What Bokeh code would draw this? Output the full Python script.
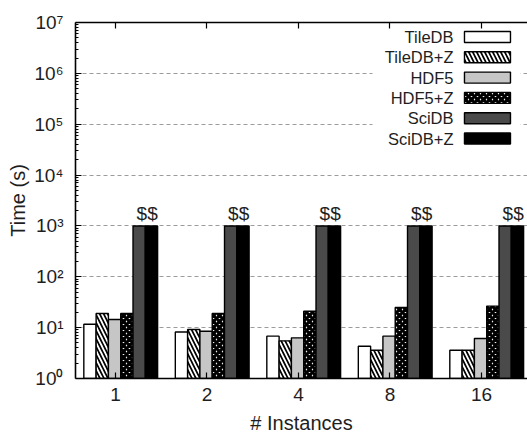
from bokeh.plotting import figure
from bokeh.models import (ColumnDataSource, FixedTicker, CustomJSTickFormatter,
                          LinearAxis, Range1d)
from bokeh.core.properties import value
from bokeh.embed import file_html
from bokeh.resources import INLINE

# ---------------- data ----------------
instances = ["1", "2", "4", "8", "16"]
series = ["TileDB", "TileDB+Z", "HDF5", "HDF5+Z", "SciDB", "SciDB+Z"]
tiledb = [11.7, 8.2, 6.8, 4.3, 3.6]
tiledb_z = [19.0, 9.2, 5.5, 3.6, 3.6]
hdf5 = [14.5, 8.5, 6.3, 6.8, 6.1]
hdf5_z = [19.0, 19.0, 21.0, 25.0, 26.5]
scidb = [1000, 1000, 1000, 1000, 1000]
scidb_z = [1000, 1000, 1000, 1000, 1000]
timeout_label = "$$"
y_exponents = [0, 1, 2, 3, 4, 5, 6, 7]

values = [tiledb, tiledb_z, hdf5, hdf5_z, scidb, scidb_z]

# ---------------- styles ----------------
FONT = "Liberation Sans"
TXT = "#1e1e1e"
styles = [
    dict(fill_color="white", hatch_pattern=" "),
    dict(fill_color="white", hatch_pattern="\\", hatch_color="black", hatch_scale=8, hatch_weight=1.7),
    dict(fill_color="#c6c6c6", hatch_pattern=" "),
    dict(fill_color="white", hatch_pattern="x", hatch_color="black", hatch_scale=6, hatch_weight=3.2),
    dict(fill_color="#4a4a4a", hatch_pattern=" "),
    dict(fill_color="black", hatch_pattern=" "),
]

# layout in category units (one unit between instance ticks)
X_START, X_END = -0.437, 4.503
BAR_W = 0.1344
GROUP_OFF = -0.346

p = figure(width=527, height=439, x_range=Range1d(X_START, X_END),
           y_range=Range1d(1, 1e7), y_axis_type="log",
           output_backend="svg", toolbar_location=None,
           min_border_left=75, min_border_right=0, min_border_top=22,
           min_border_bottom=61)
p.outline_line_color = None
p.background_fill_color = "white"
p.border_fill_color = "white"

# ---------------- axes ----------------
xt = list(range(len(instances)))
p.xaxis.ticker = FixedTicker(ticks=xt)
p.xaxis.major_label_overrides = {i: s for i, s in enumerate(instances)}
p.xaxis.axis_label = "# Instances"

p.yaxis.ticker = FixedTicker(
    ticks=[10 ** e for e in y_exponents],
    minor_ticks=[m * 10 ** e for e in y_exponents[:-1] for m in range(2, 10)])
p.yaxis.formatter = CustomJSTickFormatter(code="""
const sup = ['\u2070','\u00b9','\u00b2','\u00b3','\u2074','\u2075','\u2076','\u2077','\u2078','\u2079'];
const e = Math.round(Math.log10(tick));
return '10' + sup[e];
""")
p.yaxis.axis_label = "Time (s)"

for ax in (p.xaxis[0], p.yaxis[0]):
    ax.axis_line_width = 1.6
    ax.axis_line_color = "black"
    ax.major_tick_in = 6
    ax.major_tick_out = 0
    ax.minor_tick_in = 3
    ax.minor_tick_out = 0
    ax.major_tick_line_color = "black"
    ax.minor_tick_line_color = "black"
    ax.major_tick_line_width = 1.2
    ax.major_label_text_font = FONT
    ax.major_label_text_font_size = "19px"
    ax.major_label_text_color = TXT
    ax.axis_label_text_font = FONT
    ax.axis_label_text_font_size = "20px"
    ax.axis_label_text_font_style = "normal"
    ax.axis_label_text_color = TXT

p.xaxis.major_label_standoff = 9
p.xaxis.axis_label_standoff = 8
p.yaxis.major_label_standoff = 12
p.yaxis.axis_label_standoff = 2

top = LinearAxis(ticker=FixedTicker(ticks=xt),
                 formatter=CustomJSTickFormatter(code="return '';"),
                 major_tick_in=6, major_tick_out=0, minor_tick_in=0, minor_tick_out=0,
                 axis_line_width=1.6, major_tick_line_width=1.2, major_label_standoff=0)
p.add_layout(top, "above")

# ---------------- grid ----------------
p.xgrid.visible = False
p.ygrid.ticker = FixedTicker(ticks=[10 ** e for e in y_exponents[1:-1]])
p.ygrid.grid_line_color = "#9c9c9c"
p.ygrid.grid_line_dash = "4 3"
p.ygrid.grid_line_width = 1

# ---------------- bars ----------------
for j, (name, vals) in enumerate(zip(series, values)):
    left = [i + GROUP_OFF + j * BAR_W for i in xt]
    src = ColumnDataSource(dict(left=left, right=[l + BAR_W for l in left],
                                top=vals, bottom=[1] * len(vals)))
    p.quad(left="left", right="right", top="top", bottom="bottom", source=src,
           line_color="black", line_width=1.4, **styles[j])

# timeout labels above SciDB bars
p.text(x=[i + GROUP_OFF + 5 * BAR_W + 0.02 for i in xt], y=scidb,
       text=[timeout_label] * len(xt), text_align="center", text_baseline="bottom",
       y_offset=-2, text_font=value(FONT), text_font_size="19px", text_color=TXT)

# ---------------- legend (gnuplot style: text then swatch) ----------------
PX0, PXD = 115.0, 91.5          # pixel of first tick, pixels per unit
FT, FB = 22.0, 378.0            # frame top/bottom pixels


def dx(px):
    return (px - PX0) / PXD


def dy(py):
    return 10 ** (7 * (FB - py) / (FB - FT))


p.quad(left=[dx(372)], right=[dx(520)], top=[dy(25)], bottom=[dy(150)],
       fill_color="white", line_color=None)
row_c = [36.5 + 20.3 * k for k in range(len(series))]
p.text(x=[dx(453)] * len(series), y=[dy(c) for c in row_c], text=series,
       text_align="right", text_baseline="middle", text_font=value(FONT),
       text_font_size="16.5px", text_color=TXT)
for k, c in enumerate(row_c):
    p.quad(left=[dx(464)], right=[dx(510)], top=[dy(c - 5.5)], bottom=[dy(c + 5.5)],
           line_color="black", line_width=1.4, **styles[k])

open("out.html", "w").write(file_html(p, INLINE))
